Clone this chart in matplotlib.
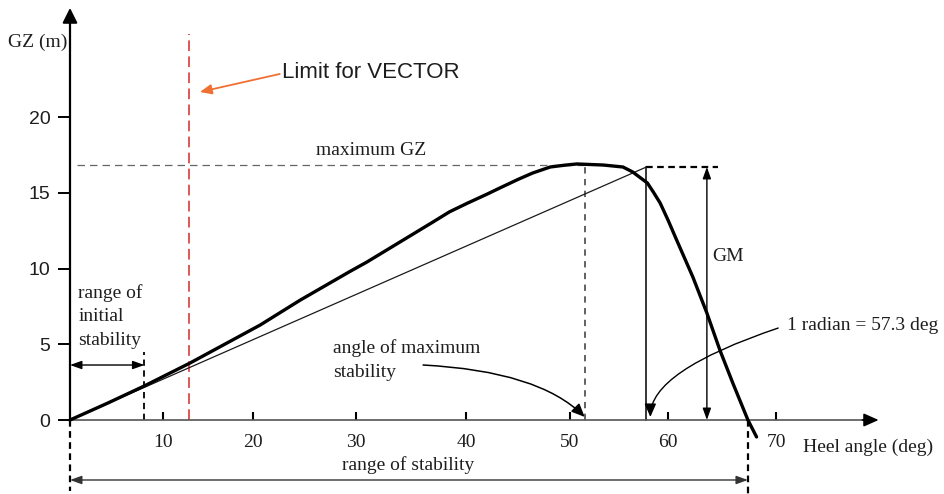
import numpy as np
import matplotlib
matplotlib.use('Agg')
import matplotlib.pyplot as plt

# ---------------- data ----------------
heel_angle = [0, 4.0, 8.0, 13.0, 20.7, 24.6, 29.4, 31.0, 35.0, 37.0, 38.5, 40.1,
              42.0, 43.3, 45.0, 46.4, 48.1, 49.5, 50.7, 53.4, 55.4, 56.4, 57.9,
              58.5, 59.2, 60.0, 60.8, 62.3, 63.6, 64.8, 66.0, 67.4, 68.2]
gz = [0, 1.1, 2.25, 3.76, 6.27, 7.92, 9.8, 10.43, 12.19, 13.07, 13.74, 14.3,
      14.9, 15.33, 15.88, 16.30, 16.70, 16.82, 16.90, 16.83, 16.70, 16.37, 15.64,
      15.05, 14.32, 13.2, 11.88, 9.44, 7.06, 4.62, 2.44, 0.0, -1.12]

x_ticks = [10, 20, 30, 40, 50, 60, 70]
y_ticks = [0, 5, 10, 15, 20]

max_gz = 16.8
angle_max_stab = 51.5
gm = 16.7
radian_angle = 57.8
initial_range = 8.0
stability_range = 67.4
vector_limit = 12.9

# the hand-drawn axis has unevenly spaced ticks: piecewise scale
scale_deg = [-20, 0, 10, 20, 30, 40, 50, 60, 70, 100]
scale_px = [-116, 70, 163, 253, 356, 466, 570, 668, 776, 1100]

def fwd(v):
    return np.interp(v, scale_deg, scale_px)

def inv(p):
    return np.interp(p, scale_px, scale_deg)

SERIF = 'Liberation Serif'
SANS = 'Liberation Sans'
TXT = '#1e1e1e'

fig = plt.figure(figsize=(9.45, 4.94), dpi=100)
ax = fig.add_axes([0, 0, 1, 1])
ax.set_xscale('function', functions=(fwd, inv))
ax.set_xlim(float(inv(0)), float(inv(945)))
ax.set_ylim((420 - 494) / 15.15, 420 / 15.15)
ax.patch.set_alpha(0)

for s in ['top', 'right']:
    ax.spines[s].set_visible(False)
ax.spines['left'].set_position(('data', 0))
ax.spines['bottom'].set_position(('data', 0))
ax.spines['left'].set_bounds(0, 26.4)
ax.spines['left'].set_linewidth(1.6)
ax.spines['left'].set_color('black')
ax.spines['bottom'].set_bounds(0, 78.5)
ax.spines['bottom'].set_linewidth(1.2)
ax.spines['bottom'].set_color('#555555')

ax.set_xticks(x_ticks)
ax.set_xticklabels([str(t) for t in x_ticks], fontfamily=SERIF, fontsize=14, color=TXT)
ax.set_yticks(y_ticks)
ax.set_yticklabels([str(t) for t in y_ticks], fontfamily=SANS, fontsize=14, color=TXT)
ax.tick_params(axis='x', direction='in', length=6, width=1.5, pad=10, color='black')
ax.tick_params(axis='y', direction='out', length=9, width=1.4, pad=5, color='black')
ax.xaxis.set_minor_locator(matplotlib.ticker.NullLocator())
ax.yaxis.set_minor_locator(matplotlib.ticker.NullLocator())

# axis arrowheads
ax.annotate('', xy=(0, 27.2), xytext=(0, 26.2),
            arrowprops=dict(arrowstyle='-|>,head_length=0.9,head_width=0.45',
                            color='black', lw=1.5, shrinkA=0, shrinkB=0))
ax.annotate('', xy=(79.5, 0), xytext=(78.0, 0),
            arrowprops=dict(arrowstyle='-|>,head_length=0.9,head_width=0.4',
                            color='black', lw=1.2, shrinkA=0, shrinkB=0))

# GZ curve
ax.plot(heel_angle, gz, color='black', lw=2.4, solid_joinstyle='round',
        solid_capstyle='round', zorder=5)

# tangent at origin
ax.plot([0, radian_angle], [0, gm], color='#1a1a1a', lw=0.9, zorder=4)

# maximum GZ dashed lines
ax.plot([0.7, angle_max_stab], [max_gz, max_gz], color='#666666', lw=0.9,
        linestyle=(0, (6, 4)))
ax.plot([angle_max_stab, angle_max_stab], [0, max_gz], color='#555555', lw=1.3,
        linestyle=(0, (3.5, 3)))
ax.text(26.1, 17.76, 'maximum GZ', fontfamily=SERIF, fontsize=14, color=TXT,
        ha='left', va='center')

# radian vertical and GM
ax.plot([radian_angle, radian_angle], [0, gm], color='black', lw=1.1)
ax.plot([radian_angle, 64.6], [gm, gm], color='black', lw=1.6, linestyle=(0, (3, 2)))
ax.annotate('', xy=(63.6, gm), xytext=(63.6, 0),
            arrowprops=dict(arrowstyle='<|-|>,head_length=0.7,head_width=0.25',
                            color='black', lw=1.0, shrinkA=0, shrinkB=0))
ax.text(64.1, 10.76, 'GM', fontfamily=SERIF, fontsize=14, color=TXT,
        ha='left', va='center')

# range of initial stability
ax.plot([initial_range, initial_range], [0, 4.49], color='black', lw=1.3,
        linestyle=(0, (3.5, 2.5)))
ax.annotate('', xy=(initial_range, 3.63), xytext=(0, 3.63),
            arrowprops=dict(arrowstyle='<|-|>,head_length=0.7,head_width=0.25',
                            color='black', lw=1.0, shrinkA=0, shrinkB=0))
ax.text(0.9, 6.83, 'range of\ninitial\nstability', fontfamily=SERIF, fontsize=14,
        color=TXT, ha='left', va='center', linespacing=1.5)

# range of stability
ax.plot([0, 0], [0, -4.7], color='black', lw=1.6, linestyle=(0, (3, 2)), clip_on=False)
ax.plot([stability_range, stability_range], [0, -5.0], color='black', lw=1.6,
        linestyle=(0, (3, 2)), clip_on=False)
ax.annotate('', xy=(stability_range, -3.96), xytext=(0, -3.96),
            arrowprops=dict(arrowstyle='<|-|>,head_length=0.7,head_width=0.25',
                            color='#333333', lw=1.0, shrinkA=0, shrinkB=0))
ax.text(34.7, -2.97, 'range of stability', fontfamily=SERIF, fontsize=14, color=TXT,
        ha='center', va='center')

# angle of maximum stability
ax.text(27.8, 3.96, 'angle of maximum\nstability', fontfamily=SERIF, fontsize=14,
        color=TXT, ha='left', va='center', linespacing=1.5)
ax.annotate('', xy=(angle_max_stab, 0.2), xytext=(36.1, 3.63),
            arrowprops=dict(arrowstyle='-|>,head_length=0.8,head_width=0.35',
                            color='black', lw=1.1, shrinkA=0, shrinkB=0,
                            connectionstyle='angle3,angleA=-3,angleB=-45'))

# 1 radian
ax.text(71.0, 6.27, '1 radian = 57.3 deg', fontfamily=SERIF, fontsize=14, color=TXT,
        ha='left', va='center')
ax.annotate('', xy=(58.2, 0.2), xytext=(70.2, 6.07),
            arrowprops=dict(arrowstyle='-|>,head_length=0.8,head_width=0.35',
                            color='black', lw=1.0, shrinkA=0, shrinkB=0,
                            connectionstyle='angle3,angleA=18.6,angleB=90'))

# axis titles
ax.text(72.5, -1.78, 'Heel angle (deg)', fontfamily=SERIF, fontsize=14, color=TXT,
        ha='left', va='center')
ax.text(-6.67, 24.9, 'GZ (m)', fontfamily=SERIF, fontsize=14, color=TXT,
        ha='left', va='center')

# VECTOR limit
ax.plot([vector_limit, vector_limit], [0, 25.5], color='#d42a2a', lw=1.1,
        linestyle=(0, (7, 3.5)))
ax.annotate('', xy=(14.1, 21.65), xytext=(22.6, 22.84),
            arrowprops=dict(arrowstyle='-|>,head_length=0.7,head_width=0.3',
                            color='#f07034', lw=1.3, shrinkA=0, shrinkB=0))
ax.text(22.8, 22.97, 'Limit for VECTOR', fontfamily=SANS, fontsize=16, color=TXT,
        ha='left', va='center')

fig.savefig('out.png', dpi=100)
